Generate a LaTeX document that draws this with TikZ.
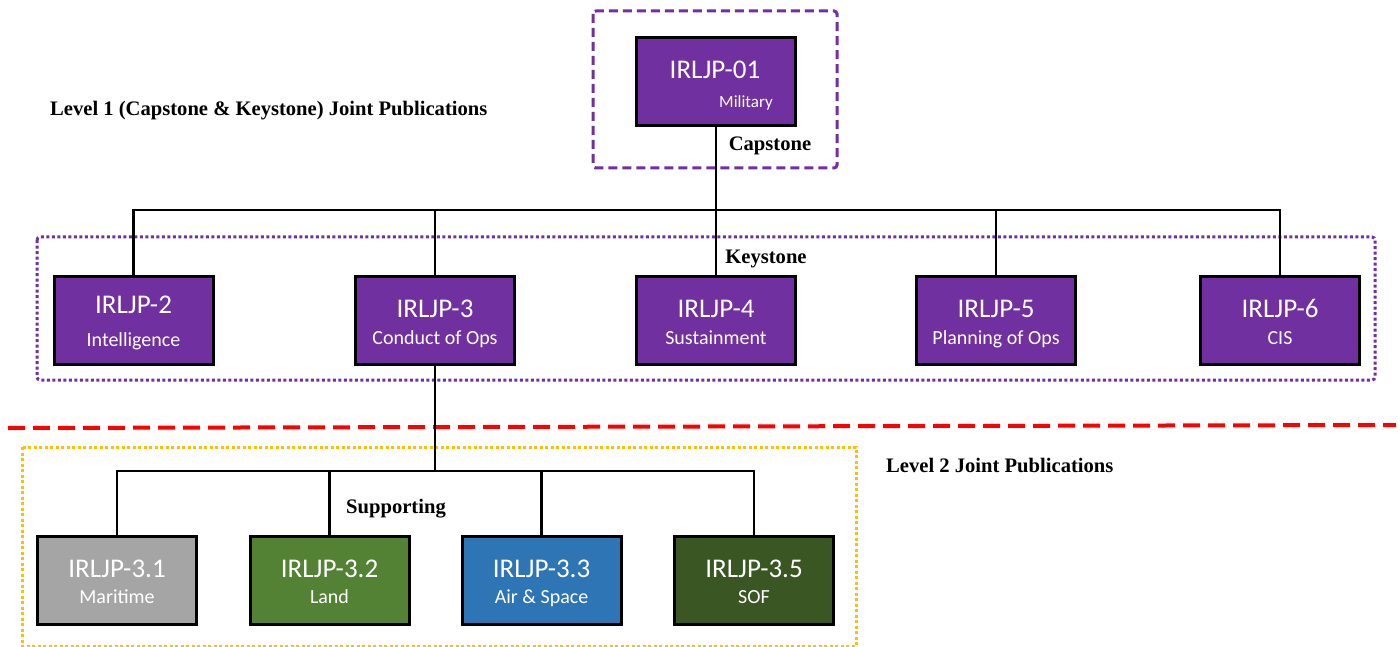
\documentclass[tikz,border=0pt]{standalone}
\usepackage{fontspec}
\setmainfont{Carlito}
\newfontfamily\lblfont{Liberation Serif}
\usetikzlibrary{calc}
\definecolor{jpurple}{HTML}{7030A0}
\definecolor{jgray}{HTML}{A5A5A5}
\definecolor{jgreen}{HTML}{548235}
\definecolor{jblue}{HTML}{2E75B6}
\definecolor{jdkgreen}{HTML}{3A5623}
\definecolor{jyellow}{HTML}{FFC000}
\newcommand\jbox[7]{%
  \node[jpbox, fill=#3] (#1) at (#2) {};
  \node[ttl] (#1-t) at ($(#1.center)+(0,#6)$) {#4};
  \node[sbt] (#1-s) at ($(#1.center)+(0,#7)$) {#5};
}
\begin{document}
\begin{tikzpicture}[x=1pt,y=-1pt,
  jpbox/.style={draw=black, line width=3pt, minimum width=159pt, minimum height=88pt, inner sep=0pt},
  ttl/.style={anchor=base, inner sep=0pt, text=white, font=\fontsize{27}{30}\selectfont},
  sbt/.style={anchor=base, inner sep=0pt, text=white, font=\fontsize{20}{24}\selectfont},
  lbl/.style={inner sep=0pt, font=\lblfont\bfseries\fontsize{20.6}{24}\selectfont},
  conn/.style={draw=black, line width=2.8pt},
  capbox/.style={draw=jpurple, line width=3pt, dash pattern=on 9pt off 5pt, rounded corners=3pt},
  keybox/.style={draw=jpurple, line width=3pt, dash pattern=on 3pt off 2.5pt, rounded corners=3pt},
  supbox/.style={draw=jyellow, line width=3pt, dash pattern=on 3pt off 2.5pt},
  divider/.style={draw=red, line width=4pt, dash pattern=on 17pt off 8pt}]
\useasboundingbox (0,0) rectangle (1400,647);

% group frames
\draw[capbox] (593,11) rectangle (837,168);
\draw[keybox] (37,237) rectangle (1375,380);
\draw[supbox] (22,447) rectangle (856,646);
\draw[divider] (8,428) -- (1396,425);

% top box
\node[jpbox, fill=jpurple] (n01) at (716,81.5) {};
\node[ttl] (n01-t) at ($(n01.center)+(-1,-3)$) {IRLJP-01};
\node[sbt, font=\fontsize{17}{20}\selectfont] (n01-s) at ($(n01.center)+(30,26.5)$) {Military};

% keystone row
\jbox{n2}{133.5,320.5}{jpurple}{IRLJP-2}{Intelligence}{-7}{26}
\jbox{n3}{435,320.5}{jpurple}{IRLJP-3}{Conduct of Ops}{-3.5}{23.5}
\jbox{n4}{716,320.5}{jpurple}{IRLJP-4}{Sustainment}{-3.5}{23.5}
\jbox{n5}{996,320.5}{jpurple}{IRLJP-5}{Planning of Ops}{-3.5}{23.5}
\jbox{n6}{1280,320.5}{jpurple}{IRLJP-6}{CIS}{-3.5}{23.5}

% supporting row
\jbox{n31}{117,580.5}{jgray}{IRLJP-3.1}{Maritime}{-3.5}{22.5}
\jbox{n32}{329.5,580.5}{jgreen}{IRLJP-3.2}{Land}{-3.5}{22.5}
\jbox{n33}{541.5,580.5}{jblue}{IRLJP-3.3}{Air \& Space}{-3.5}{22.5}
\jbox{n35}{754,580.5}{jdkgreen}{IRLJP-3.5}{SOF}{-3.5}{22.5}

% connectors
\coordinate (busA) at (0,210);
\coordinate (busB) at (0,471);
\draw[conn] (n01.south) -- (n01.south |- busA);
\draw[conn, line join=miter] (n2.north) -- (n2.north |- busA) -- (n6.north |- busA) -- (n6.north);
\foreach \n in {n3,n4,n5} \draw[conn] (\n.north) -- (\n.north |- busA);
\draw[conn] (n3.south) -- (n3.south |- busB);
\draw[conn, line join=miter] (n31.north) -- (n31.north |- busB) -- (n35.north |- busB) -- (n35.north);
\foreach \n in {n32,n33} \draw[conn] (\n.north) -- (\n.north |- busB);

% labels
\node[lbl, anchor=base west] (lv1) at (50,116) {Level 1 (Capstone \& Keystone) Joint Publications};
\node[lbl, anchor=base west] (lv2) at (886,472) {Level 2 Joint Publications};
\node[lbl, anchor=base] (cap) at (770,151) {Capstone};
\node[lbl, anchor=base] (key) at (766,263) {Keystone};
\node[lbl, anchor=base] (sup) at (396,513) {Supporting};
\end{tikzpicture}
\end{document}
